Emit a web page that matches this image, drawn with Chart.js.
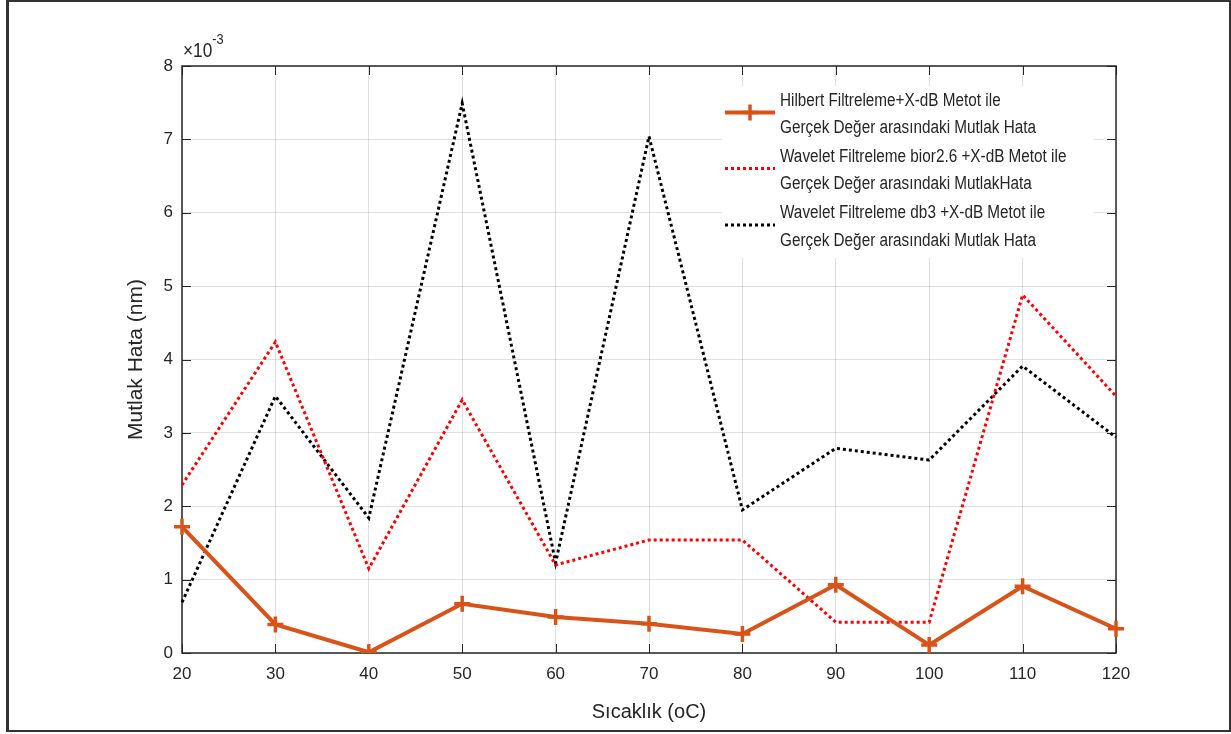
<!DOCTYPE html>
<html>
<head>
<meta charset="utf-8">
<script src="https://cdn.jsdelivr.net/npm/chart.js@4.4.1/dist/chart.umd.min.js"></script>
<style>
  html, body { margin: 0; padding: 0; background: #fff; }
  #wrap { position: relative; width: 1231px; height: 734px; }
  #frame { position: absolute; left: 6px; top: 0px; width: 1220px; height: 728px;
           border: 2px solid #333; border-left-width: 3px; pointer-events: none; }
</style>
</head>
<body>
<div id="wrap">
  <canvas id="c" width="1231" height="734"></canvas>
  <div id="frame"></div>
</div>
<script>
const INK = '#262626';
const ORANGE = '#D95319';
const RED = '#FF0000';
const BLACK = '#000000';
const FONT = "'Liberation Sans', Arial, sans-serif";

// values are in units of 1e-3 nm
const sicaklik = ['20','30','40','50','60','70','80','90','100','110','120'];
const hilbert  = [1.72, 0.39, 0.01, 0.67, 0.49, 0.40, 0.26, 0.93, 0.11, 0.91, 0.33];
const bior26   = [2.29, 4.24, 1.15, 3.45, 1.20, 1.54, 1.54, 0.42, 0.42, 4.88, 3.50];
const db3      = [0.69, 3.50, 1.84, 7.49, 1.23, 7.04, 1.95, 2.79, 2.63, 3.91, 2.94];
const yTicks   = [0, 1, 2, 3, 4, 5, 6, 7, 8];

const legendLines = [
  ['Hilbert Filtreleme+X-dB Metot ile', 'Gerçek Değer arasındaki Mutlak Hata'],
  ['Wavelet Filtreleme bior2.6 +X-dB Metot ile', 'Gerçek Değer arasındaki MutlakHata'],
  ['Wavelet Filtreleme db3 +X-dB Metot ile', 'Gerçek Değer arasındaki Mutlak Hata']
];

// horizontally condensed text, like the squeezed original
function narrowText(ctx, s, x, y, sx) {
  ctx.save();
  ctx.translate(x, y);
  ctx.scale(sx, 1);
  ctx.fillText(s, 0, 0);
  ctx.restore();
}

const boxPlugin = {
  id: 'boxPlugin',
  beforeDatasetsDraw(chart) {
    const { ctx, chartArea: a, scales: { x, y } } = chart;
    ctx.save();
    ctx.strokeStyle = INK;
    ctx.lineWidth = 1.5;
    ctx.strokeRect(a.left, a.top, a.right - a.left, a.bottom - a.top);
    ctx.lineWidth = 1;
    ctx.beginPath();
    const t = 9;
    sicaklik.forEach((_, i) => {
      const px = Math.round(x.getPixelForValue(i)) + 0.5;
      ctx.moveTo(px, a.bottom); ctx.lineTo(px, a.bottom - t);
      ctx.moveTo(px, a.top); ctx.lineTo(px, a.top + t);
    });
    yTicks.forEach(v => {
      const py = Math.round(y.getPixelForValue(v)) + 0.5;
      ctx.moveTo(a.left, py); ctx.lineTo(a.left + t, py);
      ctx.moveTo(a.right, py); ctx.lineTo(a.right - t, py);
    });
    ctx.stroke();
    // exponent label
    ctx.fillStyle = INK;
    ctx.textBaseline = 'alphabetic';
    ctx.font = '21px ' + FONT;
    const w = ctx.measureText('×10').width * 0.82;
    narrowText(ctx, '×10', a.left + 1, a.top - 9, 0.82);
    ctx.font = '15px ' + FONT;
    narrowText(ctx, '-3', a.left + 1 + w, a.top - 22, 0.85);
    ctx.restore();
  },
  afterDraw(chart) {
    const { ctx } = chart;
    const L = 722, T = 86, W = 372, H = 172;
    ctx.save();
    ctx.fillStyle = '#fff';
    ctx.fillRect(L, T, W, H);
    ctx.font = '18px ' + FONT;
    ctx.fillStyle = INK;
    ctx.textBaseline = 'middle';
    const rows = [[101, 128], [157, 184], [213, 241]];
    chart.data.datasets.forEach((ds, i) => {
      const ly = (rows[i][0] + rows[i][1]) / 2 - 2;
      ctx.strokeStyle = ds.borderColor;
      ctx.lineWidth = ds.borderWidth;
      ctx.setLineDash(ds.borderDash || []);
      ctx.beginPath(); ctx.moveTo(725, ly); ctx.lineTo(775, ly); ctx.stroke();
      ctx.setLineDash([]);
      if (ds.pointRadius > 0) {
        ctx.lineWidth = ds.pointBorderWidth;
        ctx.beginPath();
        ctx.moveTo(750 - 7, ly); ctx.lineTo(750 + 7, ly);
        ctx.moveTo(750, ly - 8); ctx.lineTo(750, ly + 8);
        ctx.stroke();
      }
      narrowText(ctx, legendLines[i][0], 780, rows[i][0], 0.85);
      narrowText(ctx, legendLines[i][1], 780, rows[i][1], 0.85);
    });
    ctx.restore();
  }
};

new Chart(document.getElementById('c'), {
  type: 'line',
  data: {
    labels: sicaklik,
    datasets: [
      { label: legendLines[0].join(' '), data: hilbert, borderColor: ORANGE, backgroundColor: ORANGE, borderWidth: 4,
        pointStyle: 'cross', pointRadius: 8, pointBorderWidth: 3.5, pointBorderColor: ORANGE, tension: 0 },
      { label: legendLines[1].join(' '), data: bior26, borderColor: RED, borderWidth: 3, borderDash: [3, 3],
        pointRadius: 0, tension: 0 },
      { label: legendLines[2].join(' '), data: db3, borderColor: BLACK, borderWidth: 3, borderDash: [3, 3],
        pointRadius: 0, tension: 0 }
    ]
  },
  options: {
    responsive: false,
    animation: false,
    layout: { padding: { left: 124, right: 115, top: 66, bottom: 8 } },
    plugins: { legend: { display: false }, tooltip: { enabled: false } },
    scales: {
      x: {
        offset: false,
        grid: { color: 'rgba(0,0,0,0.12)', drawTicks: false },
        border: { display: false },
        ticks: { color: INK, font: { family: FONT, size: 17 }, padding: 11, maxRotation: 0, autoSkip: false },
        title: { display: true, text: 'Sıcaklık (oC)', color: INK, font: { family: FONT, size: 20 }, padding: { top: 4, bottom: 2 } },
        afterFit: s => { s.height = 73; }
      },
      y: {
        min: 0, max: 8,
        grid: { color: 'rgba(0,0,0,0.12)', drawTicks: false },
        border: { display: false },
        ticks: { stepSize: 1, color: INK, font: { family: FONT, size: 17 }, padding: 9 },
        title: { display: true, text: 'Mutlak Hata (nm)', color: INK, font: { family: FONT, size: 21 }, padding: { top: 0, bottom: 4 } },
        afterFit: s => { s.width = 58; }
      }
    }
  },
  plugins: [boxPlugin]
});
</script>
</body>
</html>
